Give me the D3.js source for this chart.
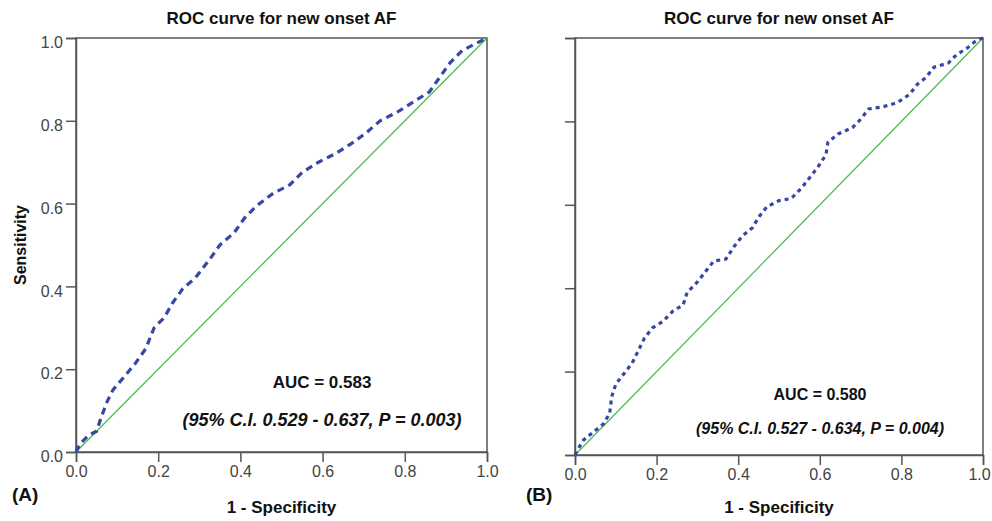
<!DOCTYPE html>
<html>
<head>
<meta charset="utf-8">
<script src="https://cdn.jsdelivr.net/npm/d3@7"></script>
<style>
  body { margin: 0; background: #fff; }
  svg { display: block; font-family: "Liberation Sans", Arial, sans-serif; }
</style>
</head>
<body>
<div id="chart"></div>
<script>
	// ROC points: [1 - specificity, sensitivity]
	var rocA = [[0,0],[0.01,0.02],[0.03,0.04],[0.05,0.05],[0.06,0.08],[0.075,0.12],[0.09,0.15],
		[0.12,0.185],[0.145,0.215],[0.17,0.25],[0.19,0.30],[0.215,0.325],[0.235,0.36],[0.26,0.395],
		[0.29,0.42],[0.325,0.465],[0.35,0.50],[0.385,0.53],[0.41,0.565],[0.44,0.595],[0.48,0.625],
		[0.52,0.645],[0.55,0.675],[0.59,0.70],[0.63,0.72],[0.67,0.745],[0.705,0.77],[0.74,0.80],
		[0.78,0.82],[0.82,0.845],[0.86,0.87],[0.885,0.905],[0.91,0.94],[0.94,0.97],[0.97,0.985],[1,1]];
	var rocB = [[0,0],[0.005,0.01],[0.02,0.035],[0.045,0.055],[0.07,0.075],[0.085,0.10],[0.09,0.14],
		[0.10,0.17],[0.12,0.195],[0.14,0.22],[0.155,0.25],[0.17,0.28],[0.19,0.305],[0.215,0.32],
		[0.24,0.345],[0.265,0.36],[0.275,0.39],[0.30,0.415],[0.32,0.44],[0.34,0.465],[0.37,0.47],
		[0.39,0.50],[0.41,0.525],[0.435,0.545],[0.45,0.57],[0.47,0.595],[0.50,0.61],[0.53,0.615],
		[0.555,0.64],[0.575,0.665],[0.595,0.69],[0.615,0.72],[0.62,0.75],[0.645,0.77],[0.68,0.785],
		[0.70,0.805],[0.72,0.83],[0.755,0.835],[0.79,0.845],[0.82,0.865],[0.84,0.89],[0.86,0.905],
		[0.88,0.93],[0.915,0.94],[0.935,0.96],[0.96,0.975],[0.985,0.995],[1,1]];
	var refLine = [[0,0],[1,1]];
	var ticks = [0, 0.2, 0.4, 0.6, 0.8, 1.0];
	var titles = ['ROC curve for new onset AF', 'ROC curve for new onset AF'];
	var aucLabels = ['AUC = 0.583', 'AUC = 0.580'];
	var ciLabels = ['(95% C.I. 0.529 - 0.637, P = 0.003)', '(95% C.I. 0.527 - 0.634, P = 0.004)'];
	var panelTags = ['(A)', '(B)'];

	var svg = d3.select('#chart').append('svg').attr('width', 992).attr('height', 521);

	var panels = [
		{data: rocA, left: 76, right: 487, top: 38, bottom: 452, yLabels: true, dash: '7,5',
			aucY: 388, aucSize: 17, ciY: 426, ciSize: 18, textX: 322, tagX: 12},
		{data: rocB, left: 575, right: 983, top: 38, bottom: 455, yLabels: false, dash: '4,4',
			aucY: 400, aucSize: 16, ciY: 434, ciSize: 16, textX: 820, tagX: 526}
	];

	panels.forEach(function(p, i) {
		var x = d3.scaleLinear().domain([0, 1]).range([p.left, p.right]);
		var y = d3.scaleLinear().domain([0, 1]).range([p.bottom, p.top]);
		var g = svg.append('g');
		var cx = (p.left + p.right) / 2;

		// frame
		g.append('rect').attr('x', p.left).attr('y', p.top)
			.attr('width', p.right - p.left).attr('height', p.bottom - p.top)
			.attr('fill', 'none').attr('stroke', '#555').attr('stroke-width', 1.5);

		var yAxis = g.append('g').attr('transform', 'translate(' + p.left + ',0)')
			.call(d3.axisLeft(y).tickValues(ticks).tickSize(10).tickFormat(p.yLabels ? d3.format('.1f') : ''));
		var xAxis = g.append('g').attr('transform', 'translate(0,' + p.bottom + ')')
			.call(d3.axisBottom(x).tickValues(ticks).tickSize(10).tickPadding(4).tickFormat(d3.format('.1f')));
		[yAxis, xAxis].forEach(function(a) {
			a.select('.domain').attr('stroke', '#555').attr('stroke-width', 1.5);
			a.selectAll('.tick line').attr('stroke', '#555').attr('stroke-width', 1.5);
			a.selectAll('.tick text').attr('fill', '#444').style('font-size', '16px');
		});
		yAxis.selectAll('.tick text').attr('dy', '0.6em');
		// keep the last x label inside the page on the right panel
		if (p.right > 900) {
			xAxis.selectAll('.tick text').filter(function(d) { return d === 1; }).attr('dx', '-4');
		}

		var line = d3.line().x(function(d) { return x(d[0]); }).y(function(d) { return y(d[1]); });
		g.append('path').datum(refLine).attr('d', line)
			.attr('fill', 'none').attr('stroke', '#4cbb52').attr('stroke-width', 1.3);
		g.append('path').datum(p.data).attr('d', line)
			.attr('fill', 'none').attr('stroke', '#3647a5').attr('stroke-width', 3.2)
			.attr('stroke-dasharray', p.dash);

		g.append('text').attr('x', cx).attr('y', 24).attr('text-anchor', 'middle')
			.style('font-size', '17px').style('font-weight', 'bold').attr('fill', '#111').text(titles[i]);
		g.append('text').attr('x', cx).attr('y', 513).attr('text-anchor', 'middle')
			.style('font-size', '17px').style('font-weight', 'bold').attr('fill', '#111').text('1 - Specificity');
		g.append('text').attr('x', p.textX).attr('y', p.aucY).attr('text-anchor', 'middle')
			.style('font-size', p.aucSize + 'px').style('font-weight', 'bold').attr('fill', '#111').text(aucLabels[i]);
		g.append('text').attr('x', p.textX).attr('y', p.ciY).attr('text-anchor', 'middle')
			.style('font-size', p.ciSize + 'px').style('font-weight', 'bold').style('font-style', 'italic')
			.attr('fill', '#111').text(ciLabels[i]);
		g.append('text').attr('x', p.tagX).attr('y', 501)
			.style('font-size', '19px').style('font-weight', 'bold').attr('fill', '#111').text(panelTags[i]);
	});

	svg.append('text').attr('transform', 'translate(26,245) rotate(-90)').attr('text-anchor', 'middle')
		.style('font-size', '16px').style('font-weight', 'bold').attr('fill', '#111').text('Sensitivity');
</script>
</body>
</html>
